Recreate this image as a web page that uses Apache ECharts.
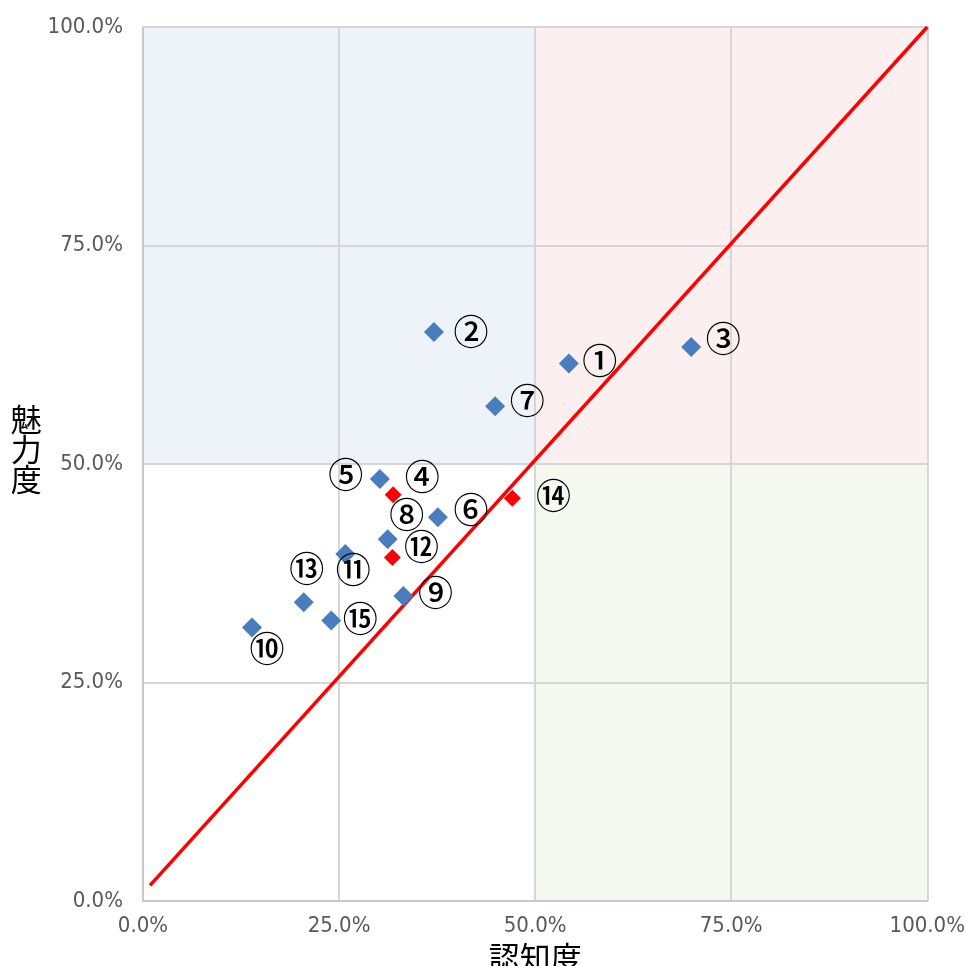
<!DOCTYPE html>
<html>
<head>
<meta charset="utf-8">
<script src="https://cdn.jsdelivr.net/npm/echarts@6/dist/echarts.min.js"></script>
<style>
html,body{margin:0;padding:0;background:#fff;}
#chart{position:absolute;left:0;top:0;width:968px;height:978px;}
</style>
</head>
<body>
<div id="chart"></div>
<script>
// ---- data ----
const pointNames = ['①','②','③','④','⑤','⑥','⑦','⑧','⑨','⑩','⑪','⑫','⑬','⑭','⑮'];
const recognition = [54.3, 37.1, 69.9, 31.9, 30.2, 37.6, 44.9, 31.2, 33.2, 13.9, 25.8, 31.8, 20.5, 47.1, 24.0];
const attractiveness = [61.5, 65.1, 63.4, 46.5, 48.3, 43.9, 56.6, 41.4, 34.9, 31.3, 39.7, 39.3, 34.2, 46.1, 32.1];
const highlighted = [false,false,false,true,false,false,false,false,false,false,false,true,false,true,false];
const refLine = [[0.9, 1.8], [100, 100]];
const axisTicks = [0, 25, 50, 75, 100];
const xName = '認知度';
const yName = '魅力度';

// label offsets (style only)
const labelOffsets = [[31,-3],[37,0],[32,-8],[29,-18],[-34,-4],[33,-8],[32,-6],[19,-25],[32,-3],[15,21],[8,16],[29,-11],[3,-33],[41,-2],[29,-2]];

const blue = '#4A7DBE', red = '#FF0000';
function mkItem(i){
  return {
    name: pointNames[i],
    value: [recognition[i], attractiveness[i]],
    symbolSize: highlighted[i] ? 17 : 20,
    itemStyle: {color: highlighted[i] ? red : blue, opacity: 1},
    label: {show: true, formatter: pointNames[i], position: 'inside', offset: labelOffsets[i]}
  };
}
const blueData = [], redData = [];
pointNames.forEach((n,i)=>{ (highlighted[i] ? redData : blueData).push(mkItem(i)); });

const labelStyle = {color:'#000', fontSize: 35, fontWeight: 500, fontFamily: '"Noto Sans CJK JP", sans-serif'};
const tickFont = {color:'#595959', fontSize: 22, fontFamily: '"DejaVu Sans", sans-serif', fontWeight: 'condensed'};

const chart = echarts.init(document.getElementById('chart'));
chart.setOption({
  animation: false,
  grid: {left: 143, top: 27, width: 786, height: 883, containLabel: false},
  xAxis: {
    type: 'value', min: axisTicks[0], max: axisTicks[axisTicks.length-1], interval: 25, z: 1,
    name: xName, nameLocation: 'middle', nameGap: 30,
    nameTextStyle: {color:'#000', fontSize: 31, fontFamily: '"Noto Sans CJK JP", sans-serif'},
    axisLine: {show: true, lineStyle: {color:'#C9C9C9', width: 2}},
    axisTick: {show: false},
    axisLabel: Object.assign({margin: 14, formatter: v => v.toFixed(1) + '%'}, tickFont),
    splitLine: {show: true, lineStyle: {color:'#D6D6D6', width: 2}}
  },
  yAxis: {
    type: 'value', min: axisTicks[0], max: axisTicks[axisTicks.length-1], interval: 25, z: 1,
    name: yName.split('').join('\n') + '\n', nameLocation: 'middle', nameGap: 93, nameRotate: 0,
    nameTextStyle: {color:'#000', fontSize: 31, lineHeight: 30, fontFamily: '"Noto Sans CJK JP", sans-serif', align: 'center'},
    axisLine: {show: true, lineStyle: {color:'#C9C9C9', width: 2}},
    axisTick: {show: false},
    axisLabel: Object.assign({margin: 20, formatter: v => v.toFixed(1) + '%'}, tickFont),
    splitLine: {show: true, lineStyle: {color:'#D6D6D6', width: 2}}
  },
  series: [
    {
      type: 'scatter', z: 0, data: [], silent: true,
      markArea: {
        silent: true, z: 0,
        data: [
          [{coord:[0,50], itemStyle:{color:'#EEF3FA', opacity: 1}}, {coord:[50,100]}],
          [{coord:[50,50], itemStyle:{color:'#FBEFEF', opacity: 1}}, {coord:[100,100]}],
          [{coord:[50,0], itemStyle:{color:'#F4F9F0', opacity: 1}}, {coord:[100,50]}]
        ]
      }
    },
    {
      type: 'line', z: 3, data: refLine, symbol: 'none',
      lineStyle: {color: red, width: 3.5}
    },
    {
      type: 'scatter', z: 4, symbol: 'diamond', data: blueData,
      label: labelStyle
    },
    {
      type: 'scatter', z: 5, symbol: 'diamond', data: redData,
      label: labelStyle
    }
  ]
});
</script>
</body>
</html>
